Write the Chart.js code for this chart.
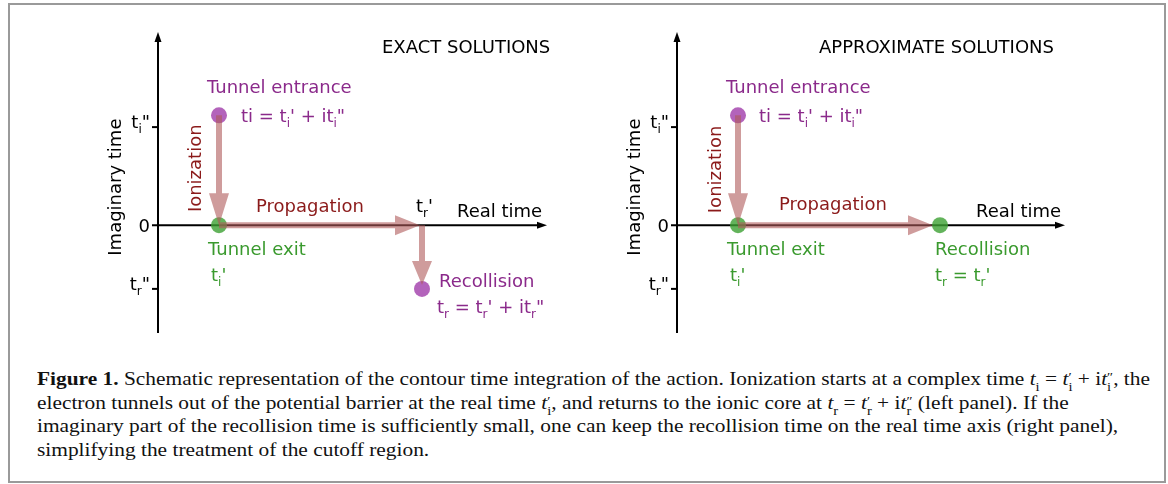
<!DOCTYPE html>
<html>
<head>
<meta charset="utf-8">
<script src="https://cdn.jsdelivr.net/npm/chart.js@4.4.1/dist/chart.umd.min.js"></script>
<style>
  body { margin: 0; background: #fff; }
  #fig { position: relative; width: 1168px; height: 484px; overflow: hidden; background: #fff; }
  #frame { position: absolute; left: 8px; top: 3px; width: 1154px; height: 476px; border: 2px solid #9a9a9a; }
  canvas { position: absolute; }
  .cap { position: absolute; left: 37px; font-family: 'Liberation Serif', serif; font-size: 18px;
         line-height: 20px; white-space: nowrap; transform-origin: 0 0; color: #111; }
  .cap i { font-style: italic; }
  .st { display: inline-block; vertical-align: -0.45em; font-size: 0.68em; line-height: 0.8; text-align: left; }
  .st span { display: block; }
</style>
</head>
<body>
<div id="fig">
  <div id="frame"></div>
  <canvas id="exactChart" width="490" height="330" style="left:90px;top:20px"></canvas>
  <canvas id="approxChart" width="490" height="330" style="left:609px;top:20px"></canvas>

  <div class="cap" id="cap1" style="top:369px"><b>Figure 1.</b> Schematic representation of the contour time integration of the action. Ionization starts at a complex time <i>t</i><span class="st"><span>&nbsp;</span><span>i</span></span> = <i>t</i><span class="st"><span>′</span><span>i</span></span> + i<i>t</i><span class="st"><span>″</span><span>i</span></span>, the</div>
  <div class="cap" id="cap2" style="top:393px">electron tunnels out of the potential barrier at the real time <i>t</i><span class="st"><span>′</span><span>i</span></span>, and returns to the ionic core at <i>t</i><span class="st"><span>&nbsp;</span><span>r</span></span> = <i>t</i><span class="st"><span>′</span><span>r</span></span> + i<i>t</i><span class="st"><span>″</span><span>r</span></span> (left panel). If the</div>
  <div class="cap" id="cap3" style="top:416px">imaginary part of the recollision time is sufficiently small, one can keep the recollision time on the real time axis (right panel),</div>
  <div class="cap" id="cap4" style="top:440px">simplifying the treatment of the cutoff region.</div>
</div>

<script>
// 縦軸の目盛り（t_r'', 0, t_i''）
const yTickValues = [-0.65, 0, 1];
const yTickLabels = ['t_r"', '0', 't_i"'];

// 軸の範囲
const yMin = -1.10;
const yMax = 1.97;
const xMaxExact = 3.89;
const xMaxApprox = 3.88;

const panelTitles = ['EXACT SOLUTIONS', 'APPROXIMATE SOLUTIONS'];
const axisTitles = ['Imaginary time', 'Real time'];

// 点：トンネル入口・トンネル出口・再衝突
const exactPointX = [0.61, 0.61, 2.64];
const exactPointY = [1.12, 0, -0.65];
const approxPointX = [0.61, 0.61, 2.63];
const approxPointY = [1.12, 0, 0];

// 矢印 [x0, y0, x1, y1]
const exactArrows = [[0.61, 1.12, 0.61, 0], [0.61, 0, 2.62, 0], [2.64, 0, 2.64, -0.61]];
const approxArrows = [[0.61, 1.12, 0.61, 0], [0.61, 0, 2.56, 0]];

// 注記テキスト
const exactTexts = ['Tunnel entrance', 'ti = t_i\' + it_i"', 'Ionization', 'Propagation', "t_r'",
                    'Tunnel exit', "t_i'", 'Recollision', 't_r = t_r\' + it_r"'];
const approxTexts = ['Tunnel entrance', 'ti = t_i\' + it_i"', 'Ionization', 'Propagation',
                     'Tunnel exit', "t_i'", 'Recollision', "t_r = t_r'"];

// 色
const PURPLE = '#8b2a8b';
const DARKRED = '#8b1a1a';
const GREEN = '#3a9a2e';
const PT_PURPLE = 'rgba(160, 60, 170, 0.8)';
const PT_GREEN = 'rgba(60, 160, 50, 0.8)';
const ARROW = 'rgba(175, 90, 90, 0.6)';
const FONT = "18px 'DejaVu Sans'";
const SUBFONT = "12px 'DejaVu Sans'";

// 注記の配置（データ座標）
const exactLayout = [
    { x: 0.49, y: 1.347, c: PURPLE },
    { x: 0.83, y: 1.051, c: PURPLE },
    { x: 0.43, y: 0.133, c: DARKRED, rot: true },
    { x: 0.98, y: 0.133, c: DARKRED },
    { x: 2.58, y: 0.133, c: '#000' },
    { x: 0.50, y: -0.306, c: GREEN },
    { x: 0.53, y: -0.571, c: GREEN },
    { x: 2.81, y: -0.633, c: PURPLE },
    { x: 2.79, y: -0.898, c: PURPLE }
];
const approxLayout = [
    { x: 0.49, y: 1.347, c: PURPLE },
    { x: 0.82, y: 1.051, c: PURPLE },
    { x: 0.44, y: 0.122, c: DARKRED, rot: true },
    { x: 1.02, y: 0.153, c: DARKRED },
    { x: 0.50, y: -0.306, c: GREEN },
    { x: 0.53, y: -0.571, c: GREEN },
    { x: 2.58, y: -0.306, c: GREEN },
    { x: 2.58, y: -0.571, c: GREEN }
];

// "_x" を下付き文字として描く
function splitRich(str) {
    const segs = [];
    const parts = str.split(/_(.)/);
    parts.forEach((p, i) => { if (p) segs.push({ t: p, sub: i % 2 === 1 }); });
    return segs;
}

function drawRich(ctx, str, x, y, align) {
    const segs = splitRich(str);
    let total = 0;
    segs.forEach(s => { ctx.font = s.sub ? SUBFONT : FONT; s.w = ctx.measureText(s.t).width; total += s.w; });
    let cx = x;
    if (align === 'right') cx -= total;
    if (align === 'center') cx -= total / 2;
    ctx.textAlign = 'left';
    ctx.textBaseline = 'alphabetic';
    segs.forEach(s => {
        ctx.font = s.sub ? SUBFONT : FONT;
        ctx.fillText(s.t, cx, s.sub ? y + 5 : y);
        cx += s.w;
    });
}

function drawArrow(ctx, ax, ay, bx, by, headLen, headHalf) {
    const len = Math.hypot(bx - ax, by - ay);
    const dx = (bx - ax) / len, dy = (by - ay) / len;
    const nx = -dy, ny = dx;
    const cx = bx - dx * headLen, cy = by - dy * headLen;
    const sw = 3;
    ctx.beginPath();
    ctx.moveTo(ax + nx * sw, ay + ny * sw);
    ctx.lineTo(cx + nx * sw, cy + ny * sw);
    ctx.lineTo(cx + nx * headHalf, cy + ny * headHalf);
    ctx.lineTo(bx, by);
    ctx.lineTo(cx - nx * headHalf, cy - ny * headHalf);
    ctx.lineTo(cx - nx * sw, cy - ny * sw);
    ctx.lineTo(ax - nx * sw, ay - ny * sw);
    ctx.closePath();
    ctx.fill();
}

// 軸・矢印・注記を描くプラグイン
const schematicPlugin = {
    id: 'schematic',
    beforeDatasetsDraw(chart, args, opts) {
        const ctx = chart.ctx, xs = chart.scales.x, ys = chart.scales.y;
        const x0 = xs.getPixelForValue(0), y0 = ys.getPixelForValue(0);
        const xStub = xs.getPixelForValue(-0.06);
        const yTop = ys.getPixelForValue(ys.max), yBot = ys.getPixelForValue(ys.min);
        const xEnd = xs.getPixelForValue(xs.max);
        ctx.save();
        ctx.strokeStyle = '#000';
        ctx.fillStyle = '#000';
        ctx.lineWidth = 2;
        // 縦軸
        ctx.beginPath(); ctx.moveTo(x0, yBot); ctx.lineTo(x0, yTop + 8); ctx.stroke();
        ctx.beginPath(); ctx.moveTo(x0, yTop); ctx.lineTo(x0 + 3.5, yTop + 10); ctx.lineTo(x0 - 3.5, yTop + 10); ctx.closePath(); ctx.fill();
        // 横軸
        ctx.beginPath(); ctx.moveTo(xStub, y0); ctx.lineTo(xEnd - 8, y0); ctx.stroke();
        ctx.beginPath(); ctx.moveTo(xEnd, y0); ctx.lineTo(xEnd - 10, y0 - 3.5); ctx.lineTo(xEnd - 10, y0 + 3.5); ctx.closePath(); ctx.fill();
        // 目盛り
        yTickValues.forEach((v, i) => {
            const py = ys.getPixelForValue(v);
            if (v !== 0) { ctx.beginPath(); ctx.moveTo(xStub, py); ctx.lineTo(x0, py); ctx.stroke(); }
            drawRich(ctx, yTickLabels[i], x0 - 8, py + (v === 0 ? 7 : 1), 'right');
        });
        // 軸タイトル
        ctx.font = FONT;
        ctx.save();
        ctx.translate(xs.getPixelForValue(-0.37), ys.getPixelForValue(0.388));
        ctx.rotate(-Math.PI / 2);
        ctx.textAlign = 'center';
        ctx.textBaseline = 'alphabetic';
        ctx.fillText(axisTitles[0], 0, 0);
        ctx.restore();
        drawRich(ctx, axisTitles[1], xs.getPixelForValue(2.99), ys.getPixelForValue(0.082), 'left');
        // パネルタイトル
        drawRich(ctx, opts.title, xs.getPixelForValue(opts.titleX), ys.getPixelForValue(1.755), 'left');
        ctx.restore();
    },
    afterDatasetsDraw(chart, args, opts) {
        const ctx = chart.ctx, xs = chart.scales.x, ys = chart.scales.y;
        ctx.save();
        ctx.fillStyle = ARROW;
        opts.arrows.forEach(a => {
            const horizontal = a[1] === a[3];
            drawArrow(ctx, xs.getPixelForValue(a[0]), ys.getPixelForValue(a[1]),
                      xs.getPixelForValue(a[2]), ys.getPixelForValue(a[3]),
                      horizontal ? 25 : (Math.abs(a[1] - a[3]) > 1 ? 32 : 24), 10);
        });
        // 注記
        opts.texts.forEach((t, i) => {
            const L = opts.layout[i];
            const px = xs.getPixelForValue(L.x), py = ys.getPixelForValue(L.y);
            ctx.fillStyle = L.c;
            if (L.rot) {
                ctx.save();
                ctx.translate(px, py);
                ctx.rotate(-Math.PI / 2);
                ctx.font = FONT;
                ctx.textAlign = 'left';
                ctx.textBaseline = 'alphabetic';
                ctx.fillText(t, 0, 0);
                ctx.restore();
            } else {
                drawRich(ctx, t, px, py, 'left');
            }
        });
        ctx.restore();
    }
};

function drawPanel(canvasId, px, py, colors, xMax, padRight, opts) {
    new Chart(document.getElementById(canvasId), {
        type: 'scatter',
        data: {
            datasets: [{
                data: px.map((x, i) => ({ x: x, y: py[i] })),
                pointRadius: 8,
                pointBorderWidth: 0,
                pointBackgroundColor: colors,
                pointBorderColor: colors
            }]
        },
        options: {
            responsive: false,
            animation: false,
            events: [],
            layout: { padding: { left: 68, right: padRight, top: 12, bottom: 17 } },
            plugins: {
                legend: { display: false },
                tooltip: { enabled: false },
                schematic: opts
            },
            scales: {
                x: { type: 'linear', display: false, min: 0, max: xMax },
                y: { type: 'linear', display: false, min: yMin, max: yMax }
            }
        },
        plugins: [schematicPlugin]
    });
}

drawPanel('exactChart', exactPointX, exactPointY, [PT_PURPLE, PT_GREEN, PT_PURPLE], xMaxExact, 33,
    { title: panelTitles[0], titleX: 2.24, arrows: exactArrows, texts: exactTexts, layout: exactLayout });
drawPanel('approxChart', approxPointX, approxPointY, [PT_PURPLE, PT_GREEN, PT_GREEN], xMaxApprox, 34,
    { title: panelTitles[1], titleX: 1.42, arrows: approxArrows, texts: approxTexts, layout: approxLayout });

// キャプションは1行目の幅に合わせて全行を同じ比率で詰める
const firstLine = document.getElementById('cap1');
const capScale = 1113 / firstLine.getBoundingClientRect().width;
['cap1', 'cap2', 'cap3', 'cap4'].forEach(id => {
    document.getElementById(id).style.transform = 'scaleX(' + capScale + ')';
});
</script>
</body>
</html>
